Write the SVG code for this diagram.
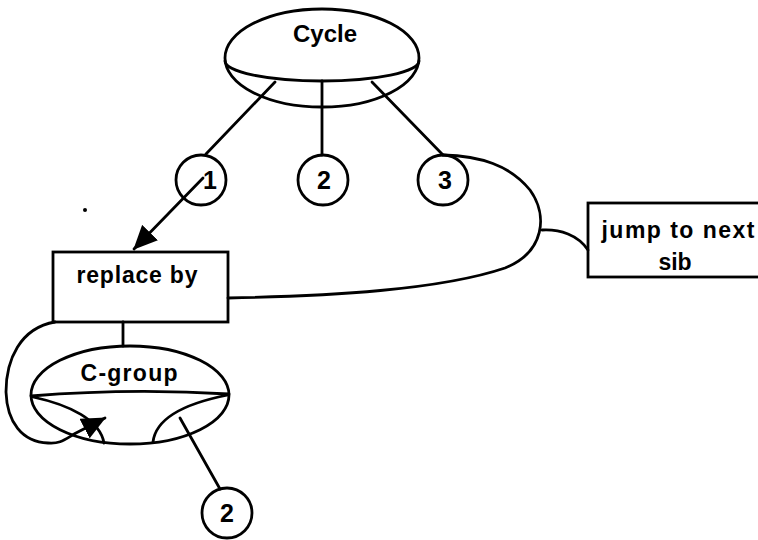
<svg xmlns="http://www.w3.org/2000/svg" width="758" height="540" viewBox="0 0 758 540">
<style>
.s{fill:none;stroke:#000;stroke-width:2.8;stroke-linecap:round;stroke-linejoin:round}
.n{fill:#fff;stroke:#000;stroke-width:2.8}
.o{fill:none;stroke:#000;stroke-width:2.8}
.t{font-family:"Liberation Sans",Arial,sans-serif;font-size:23px;font-weight:bold;fill:#000;text-anchor:middle}
.d{font-family:"Liberation Sans",Arial,sans-serif;font-size:25px;font-weight:bold;fill:#000;text-anchor:middle}
</style>
<defs>
<marker id="ah" viewBox="0 0 24 22" refX="23" refY="11" markerWidth="24" markerHeight="22" markerUnits="userSpaceOnUse" orient="auto">
<path d="M0,0 L24,11 L0,22 Z" fill="#000"/>
</marker>
</defs>
<rect width="758" height="540" fill="#fff"/>
<g id="cycle">
<ellipse class="n" cx="322" cy="58" rx="97" ry="49"/>
<path class="s" d="M225,61 A97,20 0 0 0 419,61"/>
<text class="t" x="325" y="42" style="font-size:24px">Cycle</text>
</g>
<g id="c1">
<circle class="n" cx="201" cy="180" r="25"/>
<text class="d" x="210" y="189">1</text>
</g>
<g id="c2">
<circle class="n" cx="323" cy="180" r="25"/>
<text class="d" x="324" y="189">2</text>
</g>
<g id="c3">
<circle class="n" cx="443" cy="180" r="25"/>
<text class="d" x="445" y="189">3</text>
</g>
<g id="replace">
<rect class="n" x="53" y="252" width="175" height="70"/>
<text class="t" x="137" y="283" textLength="121" lengthAdjust="spacing">replace by</text>
</g>
<g id="jump">
<rect class="n" x="588" y="203" width="185" height="74"/>
<text class="t" x="678" y="238" textLength="153" lengthAdjust="spacing">jump to next</text>
<text class="t" x="675" y="270">sib</text>
</g>
<g id="cgroup">
<ellipse class="o" cx="130" cy="395" rx="99" ry="49"/>
<path class="s" d="M31,396 Q130,388 229,394"/>
<path class="s" d="M33,397 C70,405 100,420 104,443"/>
<path class="s" d="M153,442 C155,425 172,406 228,395"/>
<text class="t" x="129" y="381" textLength="97" lengthAdjust="spacing">C-group</text>
</g>
<g id="c2b">
<circle class="n" cx="227" cy="513" r="25"/>
<text class="d" x="227" y="522">2</text>
</g>
<circle cx="85" cy="210" r="2" fill="#000"/>
<g id="connectors">
<path class="s" d="M275,82 L206,154"/>
<path class="s" d="M322,81 L322,155"/>
<path class="s" d="M372,82 L443,155"/>
<path class="s" d="M203,178 L134,249" marker-end="url(#ah)"/>
<path class="s" d="M228,298 C330,296 440,290 505,268 C545,252 548,215 530,190 C510,165 480,156 443,155"/>
<path class="s" d="M542,230 C560,229 578,235 588,250"/>
<path class="s" d="M123,322 L123,346"/>
<path class="s" d="M55,322 C20,328 6,360 6,392 C7,422 22,442 48,443 C60,444 64,440 76,433 L105,418" marker-end="url(#ah)"/>
<path class="s" d="M180,418 L220,489"/>
</g>
</svg>
